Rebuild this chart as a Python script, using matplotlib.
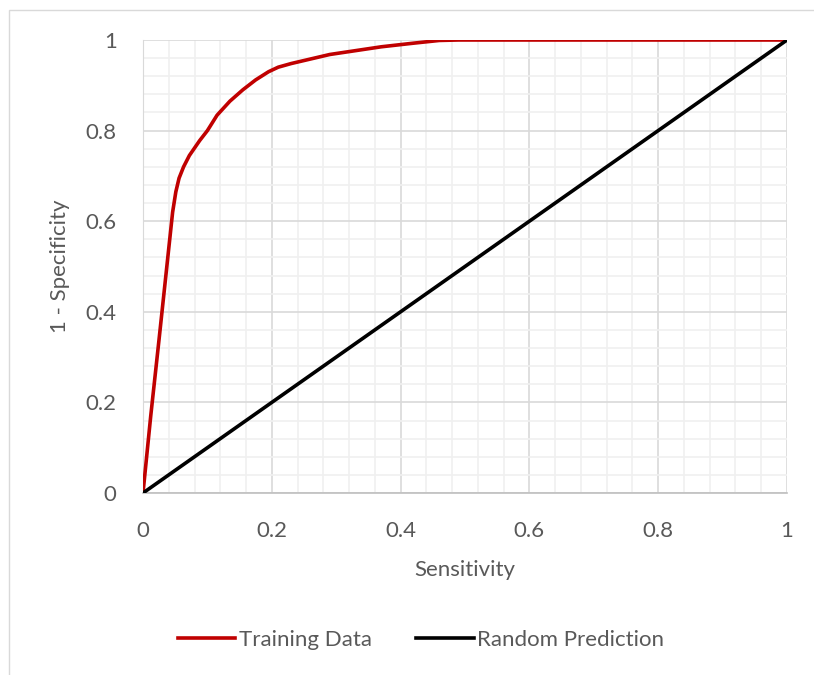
import matplotlib.pyplot as plt
import matplotlib
from matplotlib.patches import Rectangle
from matplotlib.ticker import MultipleLocator

# ROC curve values
sensitivity = [0, 0.012, 0.025, 0.037, 0.046, 0.051, 0.056, 0.063, 0.072,
               0.088, 0.1, 0.115, 0.135, 0.155, 0.175, 0.195, 0.21, 0.23,
               0.29, 0.37, 0.42, 0.46, 0.49, 0.6, 0.8, 1.0]
one_minus_spec = [0, 0.17, 0.34, 0.5, 0.62, 0.665, 0.695, 0.72, 0.745,
                  0.778, 0.8, 0.834, 0.865, 0.89, 0.912, 0.93, 0.94, 0.948,
                  0.968, 0.985, 0.993, 0.999, 1.0, 1.0, 1.0, 1.0]
random_x = [0, 1]
random_y = [0, 1]

matplotlib.rcParams['font.family'] = ['Lato', 'DejaVu Sans']
text_color = '#595959'
fs = 16

fig = plt.figure(figsize=(8.14, 6.75), dpi=100)
ax = fig.add_axes([143 / 814, 1 - 493 / 675, 644 / 814, 453 / 675])

# chart area border like the spreadsheet chart frame
fig.patches.append(Rectangle((9 / 814, -0.01), 1.0, 1 - 10 / 675 + 0.01,
                             transform=fig.transFigure, fill=False,
                             edgecolor='#D9D9D9', linewidth=1))

ax.plot(sensitivity, one_minus_spec, color='#C00000', lw=2.6,
        label='Training Data', solid_joinstyle='round', zorder=3)
ax.plot(random_x, random_y, color='black', lw=2.6,
        label='Random Prediction', zorder=3)

ax.set_xlim(0, 1)
ax.set_ylim(0, 1)
ax.xaxis.set_major_locator(MultipleLocator(0.2))
ax.yaxis.set_major_locator(MultipleLocator(0.2))
ax.xaxis.set_minor_locator(MultipleLocator(0.04))
ax.yaxis.set_minor_locator(MultipleLocator(0.04))
ax.grid(which='major', color='#D9D9D9', lw=1.2)
ax.grid(which='minor', color='#F0F0F0', lw=1.2)
ax.set_axisbelow(True)

fmt = lambda v, pos: '0' if v == 0 else ('1' if v == 1 else '%g' % v)
ax.xaxis.set_major_formatter(fmt)
ax.yaxis.set_major_formatter(fmt)
ax.tick_params(which='both', length=0, colors=text_color, labelsize=fs)
ax.tick_params(axis='x', pad=20)
ax.tick_params(axis='y', pad=19)

for side in ['top', 'right']:
    ax.spines[side].set_visible(False)
ax.spines['left'].set_color('#D9D9D9')
ax.spines['bottom'].set_color('#BFBFBF')
ax.spines['bottom'].set_linewidth(1.2)

ax.set_xlabel('Sensitivity', color=text_color, fontsize=fs, labelpad=14)
ax.set_ylabel('1 - Specificity', color=text_color, fontsize=fs, labelpad=11)

leg = fig.legend(loc='center', bbox_to_anchor=(421 / 814, 1 - 640 / 675),
                 ncol=2, frameon=False, handlelength=2.6, handletextpad=0.15,
                 columnspacing=2.0, fontsize=fs)
for t in leg.get_texts():
    t.set_color(text_color)

fig.savefig('out.png', dpi=100)
